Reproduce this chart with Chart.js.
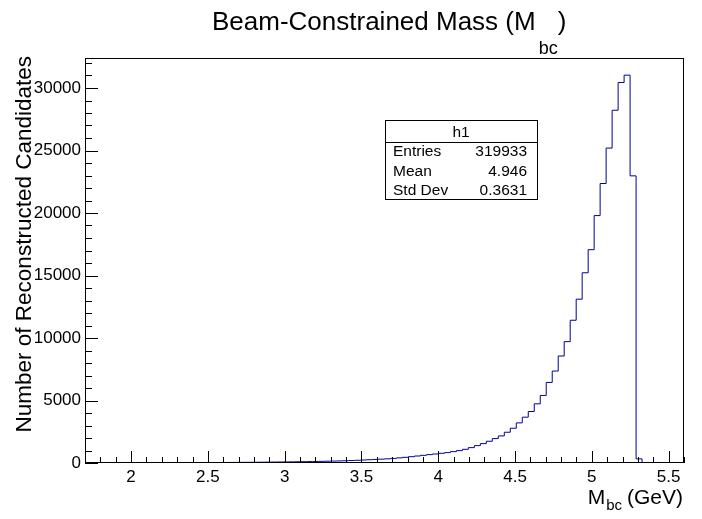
<!DOCTYPE html>
<html>
<head>
<meta charset="utf-8">
<script src="https://cdn.jsdelivr.net/npm/chart.js@4.4.1/dist/chart.umd.min.js"></script>
<style>
  html, body { margin: 0; padding: 0; background: #fff; }
  #wrap { width: 702px; height: 519px; }
</style>
</head>
<body>
<div id="wrap"><canvas id="myChart" width="702" height="519"></canvas></div>
<script>
// histogram h1: 100 bins between xMin and xMax
const xMin = 1.7;
const xMax = 5.6;
const binCounts = [
  12, 13, 14, 15, 15, 16, 17, 18, 19, 20,
  21, 22, 23, 25, 26, 27, 29, 30, 32, 34,
  36, 38, 40, 43, 46, 49, 52, 56, 60, 64,
  69, 74, 79, 85, 91, 98, 106, 114, 123, 133,
  143, 154, 166, 180, 198, 218, 240, 262, 285, 308,
  332, 370, 410, 455, 505, 560, 615, 670, 720, 776,
  830, 910, 990, 1096, 1230, 1390, 1551, 1739, 1953, 2166,
  2461, 2782, 3210, 3664, 4119, 4734, 5403, 6446, 7355, 8559,
  9709, 11420, 13106, 15218, 17064, 19793, 22360, 25195, 28220, 30436,
  31028, 22972, 330, 0, 0, 0, 0, 0, 0, 0
];
const yMax = 32400;
const xTickValues = [2, 2.5, 3, 3.5, 4, 4.5, 5, 5.5];
const yTickValues = [0, 5000, 10000, 15000, 20000, 25000, 30000];

const titleMain = "Beam-Constrained Mass (M";
const titleSub = "bc";
const titleEnd = ")";
const xTitleMain = "M";
const xTitleSub = "bc";
const xTitleUnit = "(GeV)";
const yTitle = "Number of Reconstructed Candidates";

const statsName = "h1";
const statsLabels = ["Entries", "Mean", "Std Dev"];
const statsValues = ["319933", "4.946", "0.3631"];

const FONT = "'Liberation Sans', Arial, Helvetica, sans-serif";
const lineColor = "#000099";

// bin left edges with the bin content, plus the closing edge
const binWidth = (xMax - xMin) / binCounts.length;
const histPoints = binCounts.map((c, i) => ({ x: xMin + i * binWidth, y: c }));
histPoints.push({ x: xMax, y: binCounts[binCounts.length - 1] });

const rootStyle = {
  id: "rootStyle",
  afterDraw(chart) {
    const ctx = chart.ctx;
    const a = chart.chartArea;
    const xs = chart.scales.x;
    const ys = chart.scales.y;
    ctx.save();
    ctx.strokeStyle = "#000";
    ctx.lineWidth = 1;

    // frame
    ctx.strokeRect(Math.round(a.left) + 0.5, Math.round(a.top) + 0.5,
      Math.round(a.right - a.left) - 1, Math.round(a.bottom - a.top) - 1);

    // inward ticks on x
    ctx.beginPath();
    for (let k = Math.ceil(xMin * 10); k <= Math.floor(xMax * 10); k++) {
      const px = Math.round(xs.getPixelForValue(k / 10)) + 0.5;
      const len = k % 5 === 0 ? 12 : 6;
      ctx.moveTo(px, a.bottom);
      ctx.lineTo(px, a.bottom - len);
    }
    // inward ticks on y
    for (let v = 0; v <= yMax; v += 1000) {
      const py = Math.round(ys.getPixelForValue(v)) + 0.5;
      const len = v % 5000 === 0 ? 13 : 7;
      ctx.moveTo(a.left, py);
      ctx.lineTo(a.left + len, py);
    }
    ctx.stroke();

    ctx.fillStyle = "#000";
    ctx.textBaseline = "alphabetic";

    // title with subscript
    ctx.font = "26px " + FONT;
    ctx.textAlign = "left";
    let tx = 212;
    ctx.fillText(titleMain, tx, 30);
    tx += ctx.measureText(titleMain).width + 3;
    ctx.font = "18px " + FONT;
    ctx.fillText(titleSub, tx, 54);
    tx += ctx.measureText(titleSub).width;
    ctx.font = "26px " + FONT;
    ctx.fillText(titleEnd, tx, 30);

    // x axis title, right aligned to the frame
    ctx.textAlign = "right";
    let ax = 683;
    ctx.font = "21px " + FONT;
    ctx.fillText(xTitleUnit, ax, 504);
    ax -= ctx.measureText(xTitleUnit).width + 5;
    ctx.font = "15px " + FONT;
    ctx.fillText(xTitleSub, ax, 510);
    ax -= ctx.measureText(xTitleSub).width + 1;
    ctx.font = "21px " + FONT;
    ctx.fillText(xTitleMain, ax, 504);

    // y axis title, rotated, ending at the top of the frame
    ctx.save();
    ctx.translate(31, 56);
    ctx.rotate(-Math.PI / 2);
    ctx.font = "22.5px " + FONT;
    ctx.textAlign = "right";
    ctx.fillText(yTitle, 0, 0);
    ctx.restore();

    // stats box
    const bx = 385, by = 120, bw = 152, bh = 79;
    ctx.fillStyle = "#fff";
    ctx.fillRect(bx, by, bw, bh);
    ctx.strokeRect(bx + 0.5, by + 0.5, bw, bh);
    ctx.beginPath();
    ctx.moveTo(bx, by + 22.5);
    ctx.lineTo(bx + bw, by + 22.5);
    ctx.stroke();
    ctx.fillStyle = "#000";
    ctx.textBaseline = "middle";
    ctx.font = "15.5px " + FONT;
    ctx.textAlign = "center";
    ctx.fillText(statsName, bx + bw / 2, by + 13);
    const rowY = [152, 171.5, 191];
    statsLabels.forEach((lab, i) => {
      ctx.textAlign = "left";
      ctx.fillText(lab, bx + 8, rowY[i]);
      ctx.textAlign = "right";
      ctx.fillText(statsValues[i], bx + bw - 10, rowY[i]);
    });
    ctx.restore();
  }
};

new Chart("myChart", {
  type: "line",
  data: {
    datasets: [{
      data: histPoints,
      stepped: true,
      fill: false,
      borderColor: lineColor,
      borderWidth: 1,
      pointRadius: 0,
      tension: 0
    }]
  },
  options: {
    responsive: false,
    animation: false,
    devicePixelRatio: 1,
    layout: { padding: { top: 58, right: 18, left: 0, bottom: 0 } },
    plugins: {
      legend: { display: false },
      title: { display: false },
      tooltip: { enabled: false }
    },
    scales: {
      x: {
        type: "linear",
        min: xMin,
        max: xMax,
        grid: { display: false, drawTicks: false },
        border: { display: false },
        afterBuildTicks: s => { s.ticks = xTickValues.map(v => ({ value: v })); },
        afterFit: s => { s.height = 56; },
        ticks: {
          padding: 4,
          color: "#000",
          font: { family: FONT, size: 17 },
          maxRotation: 0,
          callback: v => String(v)
        }
      },
      y: {
        type: "linear",
        min: 0,
        max: yMax,
        grid: { display: false, drawTicks: false },
        border: { display: false },
        afterBuildTicks: s => { s.ticks = yTickValues.map(v => ({ value: v })); },
        afterFit: s => { s.width = 85; },
        ticks: {
          padding: 4,
          color: "#000",
          font: { family: FONT, size: 17 },
          callback: v => String(v)
        }
      }
    }
  },
  plugins: [rootStyle]
});
</script>
</body>
</html>
